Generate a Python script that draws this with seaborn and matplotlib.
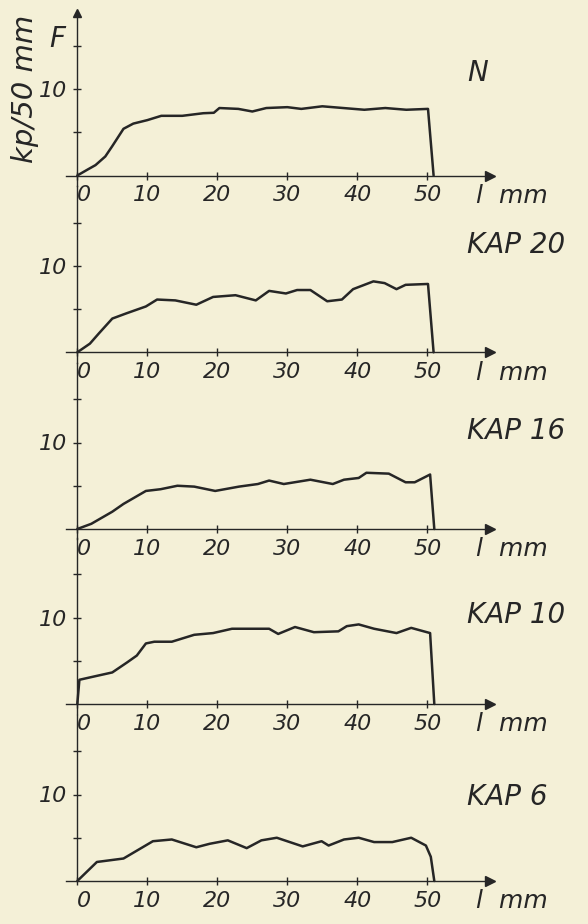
#! /usr/bin/env python
'''
Tensile force vs. elongation curves, five samples stacked (N, KAP 20 ... KAP 6)
'''
# imports
import matplotlib
matplotlib.use('Agg')
import matplotlib.pyplot as plt
import pandas as pd
import seaborn as sns

# settings
sns.set_style('ticks')
plt.rcParams['font.family'] = ['DejaVu Sans']
plt.rcParams['font.style'] = 'italic'

PAPER = '#f4f0d7'
INK = '#262626'

# DATA (F in kp/50 mm)
names = ['N', 'KAP 20', 'KAP 16', 'KAP 10', 'KAP 6']
x_ticks = [0, 10, 20, 30, 40, 50]
y_ticks = [5, 10, 15]
y_tick_labels = ['', '10', '']

n_l = [0, 1.5, 2.6, 4, 5, 6.6, 8, 10, 12, 15, 18, 19.5, 20.3, 23, 25, 27, 30, 32, 35, 38, 41, 44, 47, 50.1, 50.9]
n_f = [0, 0.7, 1.2, 2.2, 3.4, 5.4, 6.0, 6.4, 6.9, 6.9, 7.2, 7.25, 7.8, 7.7, 7.4, 7.8, 7.9, 7.7, 8.0, 7.8, 7.6, 7.8, 7.6, 7.7, 0]

kap20_l = [0, 1.8, 3.1, 5.0, 7, 9.8, 11.4, 14, 17, 19.4, 22.6, 25.5, 27.4, 29.8, 31.4, 33.3, 35.7, 37.8, 39.4, 42.3, 43.9, 45.6, 46.9, 50.1, 50.9]
kap20_f = [0, 1.0, 2.2, 3.9, 4.5, 5.3, 6.1, 6.0, 5.5, 6.4, 6.6, 6.0, 7.1, 6.8, 7.2, 7.2, 5.9, 6.1, 7.3, 8.2, 8.0, 7.3, 7.8, 7.9, 0]

kap16_l = [0, 2.0, 5, 6.6, 9.8, 11.9, 14.3, 16.7, 19.7, 23.1, 25.8, 27.4, 29.5, 33.3, 36.5, 38.1, 40.2, 41.3, 44.5, 46.9, 48.2, 50.4, 51]
kap16_f = [0, 0.6, 2.0, 2.9, 4.4, 4.6, 5.0, 4.9, 4.4, 4.9, 5.2, 5.6, 5.2, 5.7, 5.2, 5.7, 5.9, 6.5, 6.4, 5.4, 5.4, 6.3, 0]

kap10_l = [0, 0.3, 2.5, 5, 7.1, 8.5, 9.8, 11, 13.5, 16.7, 19.4, 22.1, 27.4, 28.7, 31.1, 33.8, 37.3, 38.5, 40.2, 42.4, 45.6, 47.7, 50.4, 51]
kap10_f = [0, 2.8, 3.2, 3.65, 4.8, 5.6, 7.0, 7.2, 7.2, 8.0, 8.2, 8.7, 8.7, 8.1, 8.9, 8.3, 8.4, 9.0, 9.2, 8.7, 8.2, 8.8, 8.2, 0]

kap6_l = [0, 2.8, 6.6, 8.7, 10.8, 13.5, 17, 18.9, 21.5, 24.2, 26.3, 28.5, 32.2, 34.9, 35.9, 38.1, 40.2, 42.4, 45, 47.7, 49.8, 50.5, 51]
kap6_f = [0, 2.2, 2.6, 3.6, 4.6, 4.8, 3.9, 4.3, 4.7, 3.8, 4.7, 5.0, 4.0, 4.6, 4.1, 4.8, 5.0, 4.5, 4.5, 5.0, 4.1, 2.8, 0]

curves = [(n_l, n_f), (kap20_l, kap20_f), (kap16_l, kap16_f), (kap10_l, kap10_f), (kap6_l, kap6_f)]

# layout in pixels (figure 588 x 924)
W, H = 588, 924
baselines = [175.5, 352.3, 529, 704, 881]   # y pixel of F = 0 in each panel
title_f = [11.9, 12.4, 11.3, 10.3, 9.7]     # height of the panel name
x0_px, px_mm = 77.3, 7.0                    # x pixel of l = 0, pixels per mm
px_kp = 8.65                                # pixels per kp
xlo, xhi = -1.6, 59.0

fig = plt.figure(figsize=(W/100, H/100), dpi=100)
fig.patch.set_facecolor(PAPER)

for i, (name, (l, f)) in enumerate(zip(names, curves)):
    ylo = -1.2
    yhi = 18.8 if i == 0 else 19.2
    left = (x0_px + xlo*px_mm)/W
    width = (xhi - xlo)*px_mm/W
    bottom = (H - (baselines[i] - ylo*px_kp))/H
    height = (yhi - ylo)*px_kp/H
    ax = fig.add_axes([left, bottom, width, height])
    ax.set_facecolor('none')

    df = pd.DataFrame({'l': l, 'F': f})
    sns.lineplot(x='l', y='F', data=df, sort=False, estimator=None, color=INK, linewidth=1.8, ax=ax)

    ax.set_xlim(xlo, xhi)
    ax.set_ylim(ylo, yhi)
    ax.set_xlabel('')
    ax.set_ylabel('')

    for s in ['top', 'right']:
        ax.spines[s].set_visible(False)
    ax.spines['left'].set_position(('data', 0))
    ax.spines['bottom'].set_position(('data', 0))
    for s in ['left', 'bottom']:
        ax.spines[s].set_color(INK)
        ax.spines[s].set_linewidth(1.0)
    if i == len(names) - 1:
        ax.spines['left'].set_bounds(0, yhi)

    # arrow heads
    ax.plot(1, 0, '>', transform=ax.get_yaxis_transform(), clip_on=False, color=INK, markersize=7)
    if i == 0:
        ax.plot(0, 1, '^', transform=ax.get_xaxis_transform(), clip_on=False, color=INK, markersize=6)

    ax.set_xticks(x_ticks)
    ax.set_xticklabels([str(t) for t in x_ticks], fontsize=16, style='italic')
    ax.get_xticklabels()[0].set_ha('left')
    ax.set_yticks(y_ticks)
    ax.set_yticklabels(y_tick_labels, fontsize=16, style='italic')
    ax.tick_params(axis='both', direction='inout', length=6, width=1.0, colors=INK, pad=4)

    ax.annotate('l  mm', xy=(57.0, 0), xytext=(0, -6), textcoords='offset points',
                ha='left', va='top', fontsize=18, style='italic', color=INK, annotation_clip=False)
    ax.text(55.7, title_f[i], name, ha='left', va='center', fontsize=20, style='italic', color=INK)

fig.text(25/W, 1 - 89/H, 'kp/50 mm', rotation=90, ha='center', va='center', fontsize=21, style='italic', color=INK)
fig.text(57/W, 1 - 39/H, 'F', ha='center', va='center', fontsize=20, style='italic', color=INK)

fig.savefig('out.png', dpi=100, facecolor=PAPER)
plt.close()
